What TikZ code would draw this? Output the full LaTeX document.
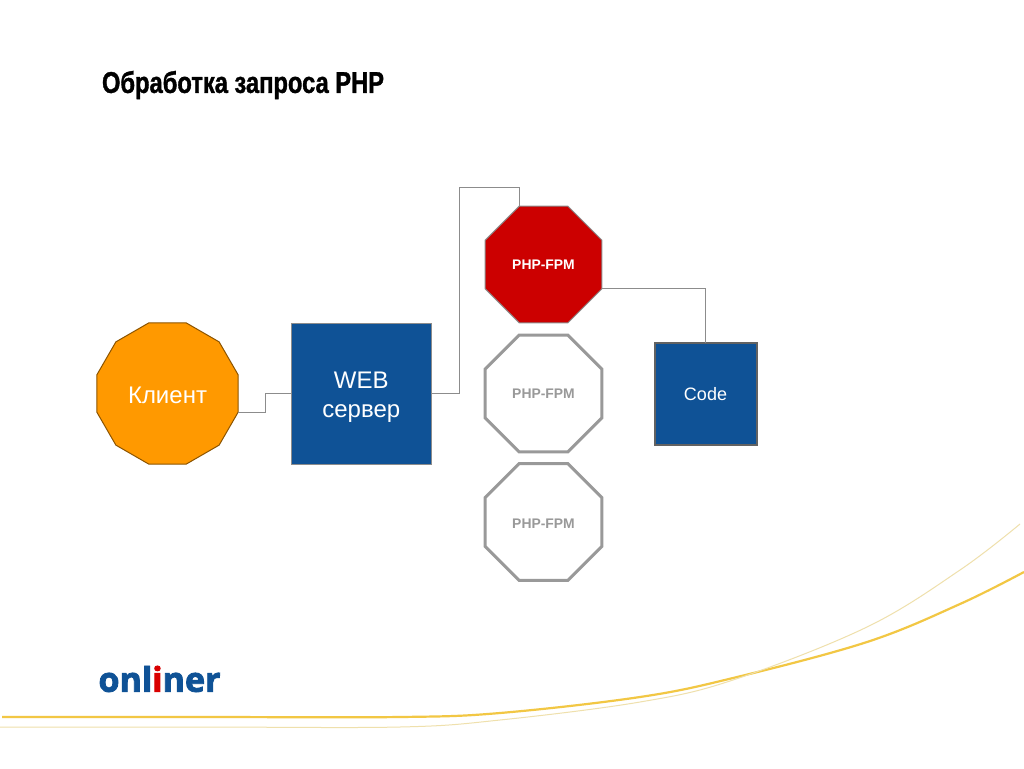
\documentclass[tikz,border=0pt]{standalone}
\usepackage{fontspec}
\usetikzlibrary{shapes.geometric}
\setmainfont{Liberation Sans}
\newfontfamily\titlefont[FakeStretch=0.79,FakeBold=1.2]{Liberation Sans Bold}
\newfontfamily\logofont[BoldFeatures={FakeBold=2.5}]{Open Sans}
\definecolor{webblue}{HTML}{0F5296}
\definecolor{orangeC}{HTML}{FF9900}
\definecolor{redC}{HTML}{CC0000}
\definecolor{edgeC}{HTML}{8C8C8C}
\definecolor{grayC}{HTML}{999999}
\definecolor{goldC}{HTML}{F2C744}
\definecolor{paleC}{HTML}{EFE0AC}
\tikzset{
 x=1pt,y=-1pt,
 every node/.style={outer sep=0pt,inner sep=0pt,align=center},
 conn/.style={draw=edgeC,line width=1pt},
 client/.style={regular polygon,regular polygon sides=12,minimum size=146pt,fill=orangeC,draw=black!45!orangeC,line width=1pt,text=white,font=\fontsize{24}{28}\selectfont},
 fpmon/.style={regular polygon,regular polygon sides=8,minimum size=126.6pt,fill=redC,draw=edgeC,line width=1pt,text=white,font=\bfseries\fontsize{13.9}{16}\selectfont},
 fpmoff/.style={regular polygon,regular polygon sides=8,minimum size=126.6pt,fill=white,draw=grayC,line width=3pt,text=grayC,font=\bfseries\fontsize{13.9}{16}\selectfont},
 webbox/.style={rectangle,fill=webblue,draw=edgeC,line width=1pt,minimum width=140.5pt,minimum height=141pt,text=white,font=\fontsize{24}{29.5}\selectfont},
 codebox/.style={rectangle,fill=webblue,draw=black!30!edgeC,line width=2pt,minimum width=102pt,minimum height=102pt,text=white,font=\fontsize{18}{22}\selectfont},
}
\begin{document}
\begin{tikzpicture}
\useasboundingbox (0,0) rectangle (1024,768);
\fill[white] (0,0) rectangle (1024,768);
\node[anchor=west,font=\titlefont\fontsize{30}{34}\selectfont] (title) at (102,85) {Обработка запроса PHP};
\node[client] (cl) at (167.5,393.5) {\rule{0pt}{20pt}Клиент};
\node[webbox] (web) at (361.3,393.5) {\rule{0pt}{24pt}WEB\\сервер};
\node[fpmon] (f1) at (543.5,264.5) {PHP-FPM};
\node[fpmoff] (f2) at (543.5,393.5) {PHP-FPM};
\node[fpmoff] (f3) at (543.5,522) {\rule{0pt}{12pt}PHP-FPM};
\node[codebox] (code) at (705.5,393.5) {\rule{0pt}{15pt}Code};
\coordinate (m1) at (265,393.5);
\coordinate (m2) at (459,187);
\draw[conn] (cl.corner 10) -| (m1) -- (web.west);
\draw[conn] (web.east) -| (m2) -| (f1.corner 2);
\draw[conn] (f1.corner 7) -| (code.north);
\node[anchor=center,text=webblue,font=\logofont\bfseries\fontsize{34}{40}\selectfont] (logo) at (159.5,679) {onl\textcolor{red!85!black}{i}ner};
\draw[goldC,line width=2.2pt] plot[smooth,tension=0.6] coordinates {(2,717) (200,717) (400,717) (500,713) (640,697) (733,678) (867,642) (960,604) (1024,572)};
\draw[paleC,line width=1pt] plot[smooth,tension=0.6] coordinates {(0,727) (200,727) (400,727) (500,720) (640,702) (733,680) (867,627) (960,570) (1020,524)};
\end{tikzpicture}
\end{document}
